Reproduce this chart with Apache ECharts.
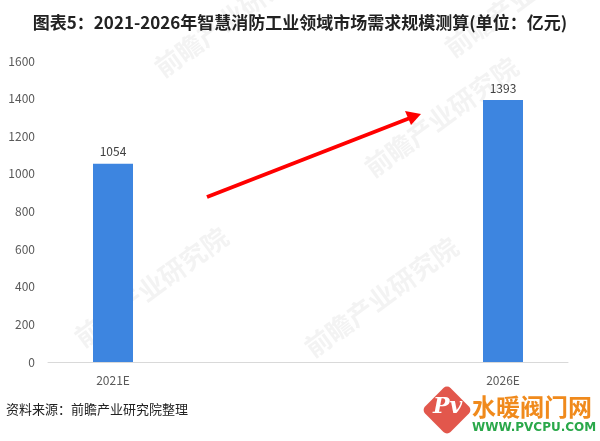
<!DOCTYPE html>
<html><head><meta charset="utf-8">
<script src="https://cdn.jsdelivr.net/npm/echarts@6/dist/echarts.min.js"></script>
<style>html,body{margin:0;padding:0;background:#fff}#c{width:600px;height:441px}</style>
</head><body><div id="c"></div>
<script>
const categories = ['2021E', '', '', '2026E'];
const values = [1054, null, null, 1393];
const titleText = '图表5：2021-2026年智慧消防工业领域市场需求规模测算(单位：亿元)';
const sourceText = '资料来源：前瞻产业研究院整理';

const chart = echarts.init(document.getElementById('c'));
const wm = (x, y) => ({
  type: 'text', x: x, y: y, rotation: Math.PI / 5, z: 0, silent: true,
  style: { text: '前瞻产业研究院', fill: 'rgba(200,200,200,0.22)', font: 'bold 26px "Noto Sans CJK SC"' }
});
chart.setOption({
  backgroundColor: '#fff',
  animation: false,
  title: {
    text: titleText, left: 'center', top: 9,
    textStyle: { fontFamily: '"Noto Sans CJK SC"', fontSize: 17, fontWeight: 'bold', color: '#222' }
  },
  grid: { left: 48, right: 32, top: 61, bottom: 79 },
  xAxis: {
    type: 'category', data: categories,
    axisLine: { lineStyle: { color: '#d9d9d9' } },
    axisTick: { show: false },
    axisLabel: { color: '#595959', fontSize: 12, margin: 12, fontFamily: '"Noto Sans CJK SC"' }
  },
  yAxis: {
    type: 'value', min: 0, max: 1600, interval: 200,
    axisLine: { show: false }, axisTick: { show: false },
    splitLine: { show: false },
    axisLabel: { color: '#595959', fontSize: 12, margin: 13, formatter: v => String(v), fontFamily: '"Noto Sans CJK SC"' }
  },
  series: [{
    type: 'bar', data: values, barWidth: 40,
    itemStyle: { color: '#3d85e0' },
    label: { show: true, position: 'top', color: '#404040', fontSize: 12, distance: 6, fontFamily: '"Noto Sans CJK SC"' },
    z: 2
  }],
  graphic: [
    wm(150, 60), wm(360, 160), wm(440, 40), wm(70, 330), wm(300, 340),
    { type: 'line', z: 10, shape: { x1: 207, y1: 197, x2: 410, y2: 118 },
      style: { stroke: '#ff0000', lineWidth: 4 } },
    { type: 'polygon', z: 10, shape: { points: [[421, 114], [405, 111], [411, 125]] },
      style: { fill: '#ff0000' } },
    { type: 'text', left: 6, top: 403,
      style: { text: sourceText, fill: '#222', font: '13px "Noto Sans CJK SC"' } },
    { type: 'rect', z: 5, x: 447, y: 410, rotation: Math.PI / 4,
      shape: { x: -18, y: -18, width: 36, height: 36, r: 5 }, style: { fill: '#e2574c' } },
    { type: 'text', z: 6, x: 433, y: 396, style: { text: 'Pv', fill: '#fff', font: 'italic bold 22px "DejaVu Serif"' } },
    { type: 'text', z: 6, x: 472, y: 395, style: { text: '水暖阀门网', fill: '#f08a1c', font: 'bold 24px "Noto Sans CJK SC"' } },
    { type: 'text', z: 6, x: 472, y: 422, style: { text: 'WWW.PVCPU.COM', fill: '#2aa84a', font: 'bold 12px "DejaVu Sans"' } }
  ]
});
</script></body></html>
